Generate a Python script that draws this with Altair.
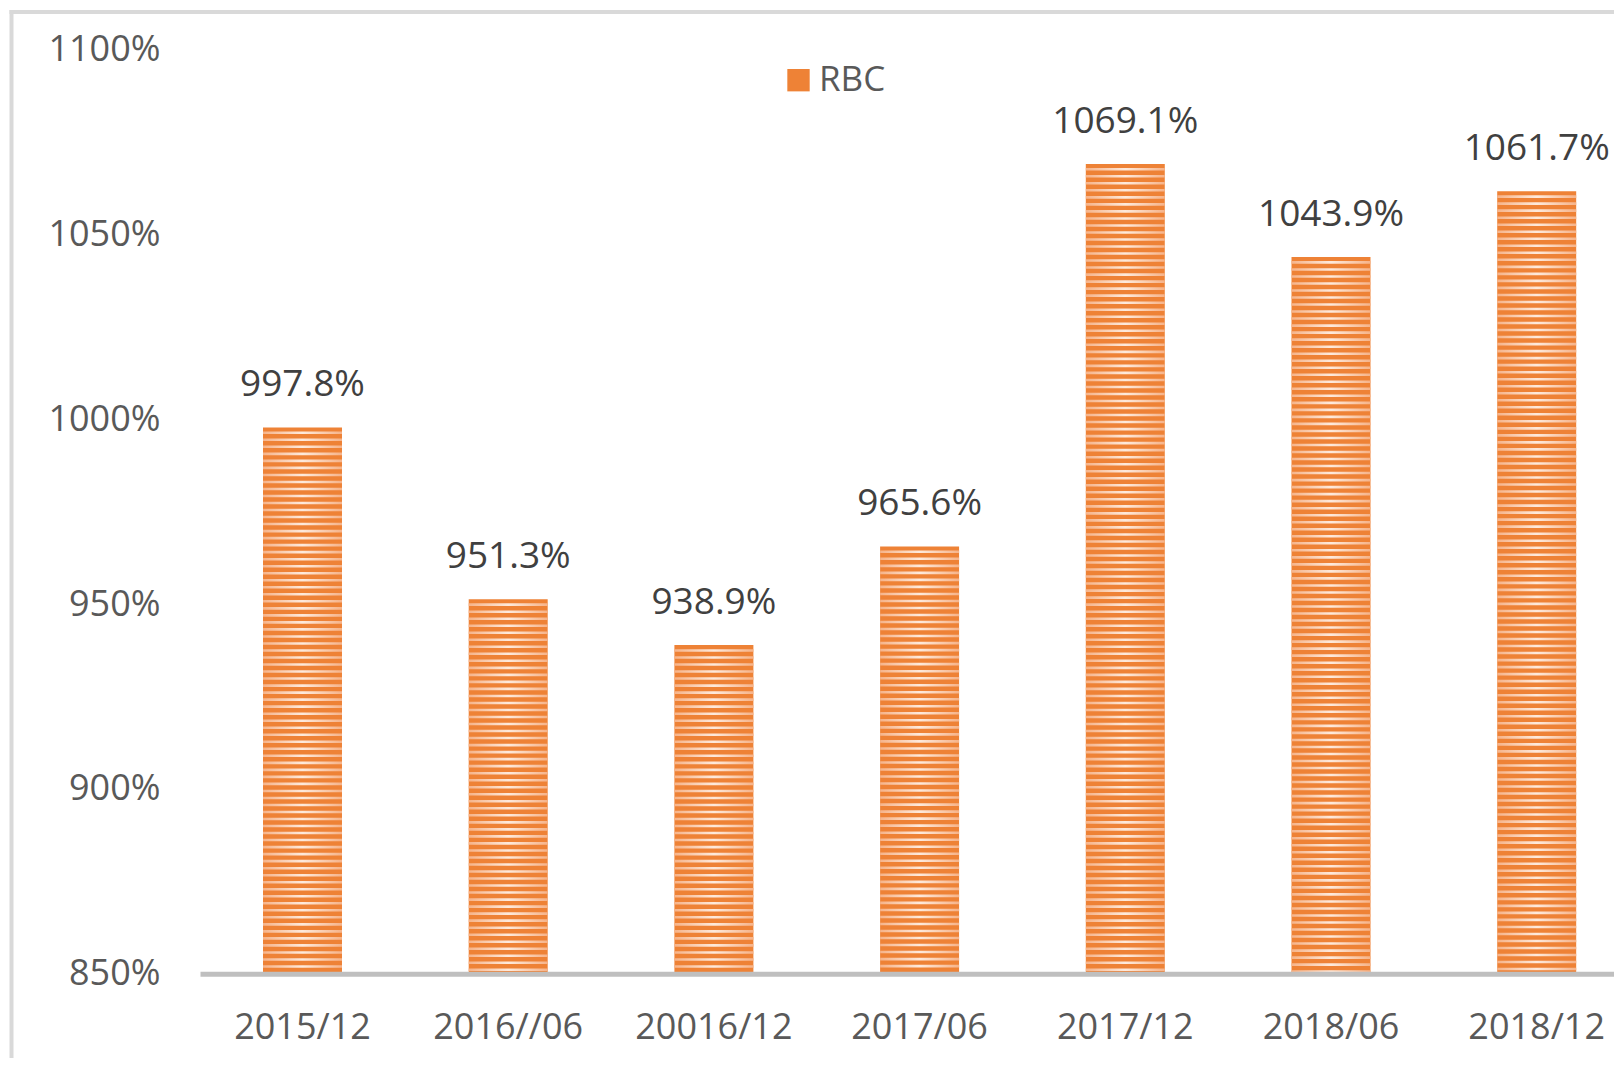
import altair as alt
import pandas as pd

# ---- data ----
categories = ["2015/12", "2016//06", "20016/12", "2017/06", "2017/12", "2018/06", "2018/12"]
rbc_values = [997.8, 951.3, 938.9, 965.6, 1069.1, 1043.9, 1061.7]
y_ticks = [850, 900, 950, 1000, 1050, 1100]
series_name = "RBC"
y_floor = 850
y_ceil = 1100

bars_df = pd.DataFrame({"period": categories, "rbc": rbc_values, "series": series_name})
bars_df["base"] = y_floor
bars_df["label"] = [f"{v:.1f}%" for v in rbc_values]

# horizontal stripe pattern (decoration of each bar, derived from the bar values)
stripe_period = 1.9
stripe_thick = 0.7
rows = []
for c, v in zip(categories, rbc_values):
    top = v - 1.1
    while top - stripe_thick > y_floor:
        rows.append({"period": c, "s_top": top, "s_bot": top - stripe_thick})
        top -= stripe_period
stripes_df = pd.DataFrame(rows)

FONT = "Open Sans"
ORANGE = "#EE8236"
AXIS_TXT = "#595959"

x_scale = alt.Scale(domain=categories, paddingInner=0.616, paddingOuter=0.245, align=0.625)
y_scale = alt.Scale(domain=[y_floor, y_ceil], nice=False, zero=False)

x_axis = alt.Axis(
    title=None, labelAngle=0, ticks=False, tickSize=0, domain=True,
    domainColor="#BFBFBF", domainWidth=5, labelFont=FONT, labelFontSize=36,
    labelColor=AXIS_TXT, labelPadding=65, labelBaseline="alphabetic", zindex=1,
)
y_axis = alt.Axis(
    title=None, values=y_ticks, domain=False, ticks=False, tickSize=0, grid=False,
    labelFont=FONT, labelFontSize=36, labelColor=AXIS_TXT, labelPadding=40,
    labelExpr="datum.value + '%'",
)

bars = alt.Chart(bars_df).mark_bar(stroke=None).encode(
    x=alt.X("period:N", scale=x_scale, sort=categories, axis=x_axis, title=None),
    y=alt.Y("rbc:Q", scale=y_scale, axis=y_axis, title=None),
    y2=alt.Y2("base:Q"),
    color=alt.Color(
        "series:N",
        scale=alt.Scale(domain=[series_name], range=[ORANGE]),
        title=None,
        legend=alt.Legend(
            orient="none", legendX=581, legendY=13, symbolType="square",
            symbolSize=500, symbolStrokeWidth=0, labelFont=FONT, labelFontSize=35,
            labelColor=AXIS_TXT, labelOffset=3, padding=0,
        ),
    ),
)

stripe_grad = alt.Gradient(
    gradient="linear", x1=0, x2=1, y1=0, y2=0,
    stops=[
        alt.GradientStop(color="#F6B389", offset=0),
        alt.GradientStop(color="#FEEADC", offset=0.5),
        alt.GradientStop(color="#F6B389", offset=1),
    ],
)

stripes = alt.Chart(stripes_df).mark_bar(color=stripe_grad, stroke=None).encode(
    x=alt.X("period:N", scale=x_scale, sort=categories, title=None),
    y=alt.Y("s_top:Q", scale=y_scale, title=None),
    y2=alt.Y2("s_bot:Q"),
)

labels = alt.Chart(bars_df).mark_text(
    dy=-31, baseline="alphabetic", font=FONT, fontSize=37, color="#404040"
).encode(
    x=alt.X("period:N", scale=x_scale, sort=categories, title=None),
    y=alt.Y("rbc:Q", scale=y_scale, title=None),
    text="label:N",
)

frame_data = alt.Data(values=[{"k": 1}])
border_left = alt.Chart(frame_data).mark_rule(color="#D9D9D9", strokeWidth=4).encode(
    x=alt.value(-188.5), y=alt.value(-39.7), y2=alt.value(1100)
)
border_top = alt.Chart(frame_data).mark_rule(color="#D9D9D9", strokeWidth=4).encode(
    x=alt.value(-190.5), x2=alt.value(1500), y=alt.value(-37.7)
)

chart = alt.layer(border_left, border_top, bars, stripes, labels).properties(
    width=1414,
    height=924,
    autosize=alt.AutoSizeParams(type="none"),
    padding={"left": 192, "top": 41.7, "right": 0, "bottom": 84},
).configure(background="white").configure_view(stroke=None, strokeWidth=0)

chart.save("out.html", embed_options={"renderer": "svg", "actions": False})
